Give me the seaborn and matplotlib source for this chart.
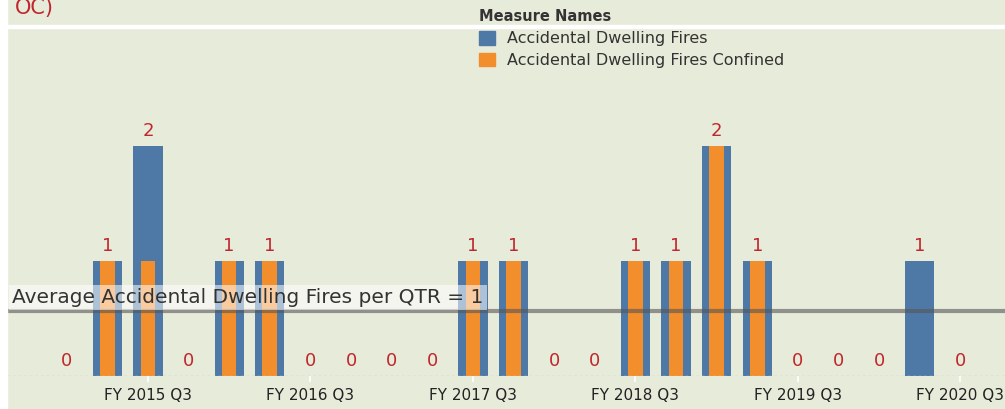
import numpy as np
import matplotlib
matplotlib.use("Agg")
import matplotlib.pyplot as plt
from matplotlib.patches import Patch, Rectangle
import seaborn as sns

# quarterly counts, FY 2015 Q1 .. FY 2020 Q3
quarters = [f"FY {y} Q{q}" for y in range(2015, 2021) for q in range(1, 5)][:23]
fires = [0, 1, 2, 0, 1, 1, 0, 0, 0, 0, 1, 1, 0, 0, 1, 1, 2, 1, 0, 0, 0, 1, 0]
confined = [0, 1, 1, 0, 1, 1, 0, 0, 0, 0, 1, 1, 0, 0, 1, 1, 2, 1, 0, 0, 0, 0, 0]
tick_labels = [q for q in quarters if q.endswith("Q3")]
series_names = ["Accidental Dwelling Fires", "Accidental Dwelling Fires Confined"]

blue = "#4E79A7"
orange = "#F28E2B"
bg = "#E7EBDA"
red = "#C0272D"

sns.set_theme(style="white")
plt.rcParams["font.family"] = ["DejaVu Sans"]

W, H = 1005, 409
fig = plt.figure(figsize=(W / 100, H / 100), dpi=100, facecolor=bg)
ax = fig.add_axes([7 / W, (H - 376) / H, 1 - 7 / W, (376 - 27) / H])
ax.set_facecolor(bg)

sns.barplot(x=quarters, y=fires, order=quarters, color=blue, saturation=1,
            width=0.72, linewidth=0, ax=ax)
sns.barplot(x=quarters, y=confined, order=quarters, color=orange, saturation=1,
            width=0.36, linewidth=0, ax=ax)

# value labels (blue series)
for i, v in enumerate(fires):
    ax.annotate(str(v), (i, v), xytext=(0, 4), textcoords="offset points",
                ha="center", va="bottom", color=red, fontsize=13)

# average line
avg = np.mean(fires)
ax.axhline(avg, color="#555555", lw=3, alpha=0.6, zorder=5)
ax.text(-1.34, avg + 0.035, f"Average Accidental Dwelling Fires per QTR = {avg:.0f}",
        fontsize=14.5, color="#333333", va="bottom", ha="left", zorder=6,
        bbox=dict(boxstyle="square,pad=0.15", fc="white", ec="none", alpha=0.55))

# zero baseline
ax.axhline(0, color="#C8C8C8", lw=1, ls=(0, (2, 2)), zorder=1)

ax.set_xlim(-1.47, 23.1)
ax.set_ylim(0, 3.035)
ax.set_yticks([])
ax.set_xticks([i for i, q in enumerate(quarters) if q.endswith("Q3")])
ax.set_xticklabels(tick_labels, fontsize=11, color="#222222")
ax.tick_params(axis="x", length=4, color="white", pad=5, bottom=True)
ax.set_xlabel("")
for s in ax.spines.values():
    s.set_visible(False)

# white strips (left margin and header separator)
fig.patches.append(Rectangle((0, 0), 7 / W, 1, transform=fig.transFigure,
                             color="white", zorder=0))
fig.patches.append(Rectangle((7 / W, 1 - 28 / H), 1, 3 / H, transform=fig.transFigure,
                             color="white", zorder=0))

fig.text(15 / W, 1 - 14 / H, "OC)", color=red, fontsize=15, va="baseline", ha="left")

handles = [Patch(color=blue), Patch(color=orange)]
leg = fig.legend(handles, series_names, title="Measure Names", loc="upper left",
                 bbox_to_anchor=(465 / W, 1 + 5 / H), frameon=False, fontsize=11.5,
                 title_fontsize=10.5, alignment="left", handlelength=0.95,
                 handleheight=0.95, labelspacing=0.4, handletextpad=0.8)
leg.get_title().set_color("#333333")
leg.get_title().set_fontweight("semibold")
for t in leg.get_texts():
    t.set_color("#333333")

fig.savefig("out.png", dpi=100, facecolor=bg)
